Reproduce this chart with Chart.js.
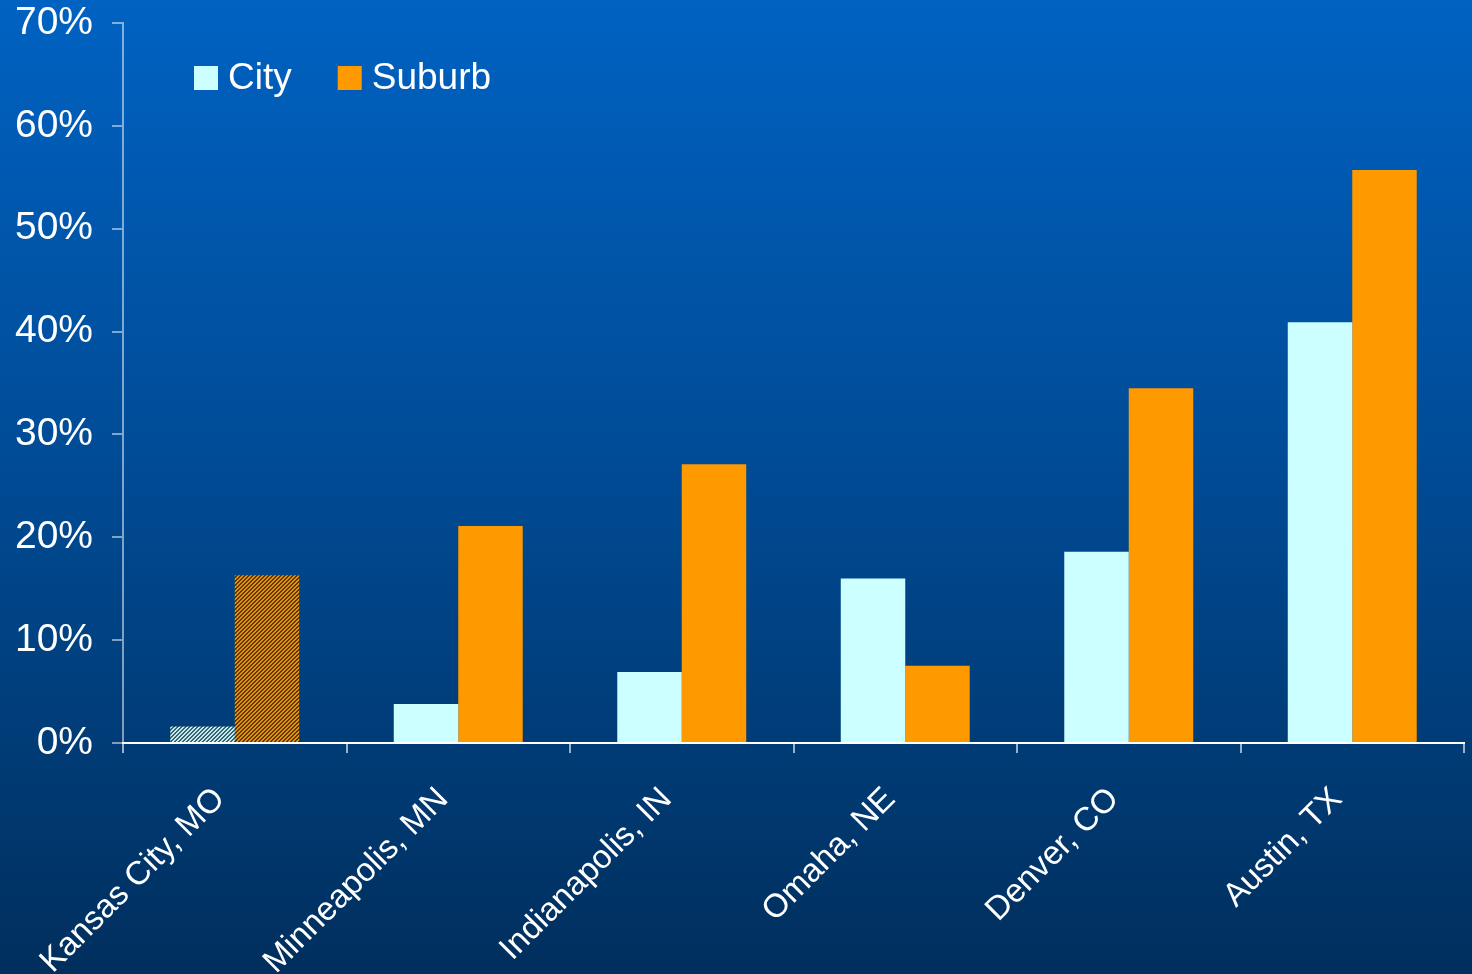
<!DOCTYPE html>
<html><head><meta charset="utf-8">
<script src="https://cdn.jsdelivr.net/npm/chart.js@4/dist/chart.umd.min.js"></script>
<style>html,body{margin:0;padding:0;background:#003060;overflow:hidden}#wrap{width:1472px;height:974px}</style>
</head><body><div id="wrap"><canvas id="c" width="1472" height="974"></canvas></div>
<script>
const categories = ['Kansas City, MO','Minneapolis, MN','Indianapolis, IN','Omaha, NE','Denver, CO','Austin, TX'];
const cityValues = [1.6, 3.8, 6.9, 16.0, 18.6, 40.9];
const suburbValues = [16.3, 21.1, 27.1, 7.5, 34.5, 55.7];
const seriesNames = ['City','Suburb'];
const hatchedCategories = ['Kansas City, MO'];
const yTickMax = 70, yTickStep = 10;

const FONT = 'Liberation Sans, Arial, sans-serif';
const CITY = '#CCFFFF', SUBURB = '#FF9900';

function hatch(bg, fg){
  const c = document.createElement('canvas'); c.width = c.height = 4;
  const g = c.getContext('2d');
  g.fillStyle = bg; g.fillRect(0,0,4,4);
  g.fillStyle = fg;
  for (let i=0;i<4;i++){ g.fillRect(i,3-i,1,1); g.fillRect((i+1)%4,3-i,1,1); }
  return g.createPattern(c,'repeat');
}
const cityHatch = hatch('#c0ecec','#3a6270');
const subHatch = hatch('#ea9200','#5a3800');
const cityColors = categories.map(c => hatchedCategories.includes(c) ? cityHatch : CITY);
const subColors = categories.map(c => hatchedCategories.includes(c) ? subHatch : SUBURB);

const bgPlugin = {
  id:'bg',
  beforeDraw(chart){
    const {ctx, width, height} = chart;
    const g = ctx.createLinearGradient(0,0,0,height);
    g.addColorStop(0,'#0062c2');
    g.addColorStop(0.5,'#004a93');
    g.addColorStop(1,'#002f5d');
    ctx.save(); ctx.fillStyle = g; ctx.fillRect(0,0,width,height); ctx.restore();
  }
};
const legendPlugin = {
  id:'customLegend',
  afterDraw(chart){
    const ctx = chart.ctx;
    ctx.save();
    ctx.font = '37px ' + FONT;
    ctx.textBaseline = 'middle';
    let x = 194; const y = 66, s = 24;
    chart.data.datasets.forEach((ds, i) => {
      ctx.fillStyle = i === 0 ? CITY : SUBURB;
      ctx.fillRect(x, y, s, s);
      ctx.fillStyle = '#ffffff';
      ctx.fillText(ds.label, x + s + 10, y + s/2 + 1);
      x += s + 10 + ctx.measureText(ds.label).width + 46;
    });
    ctx.restore();
  }
};

new Chart(document.getElementById('c'), {
  type:'bar',
  data:{
    labels: categories,
    datasets:[
      {label: seriesNames[0], data: cityValues, backgroundColor: cityColors, borderWidth:0},
      {label: seriesNames[1], data: suburbValues, backgroundColor: subColors, borderWidth:0}
    ]
  },
  options:{
    responsive:false, animation:false, devicePixelRatio:1,
    categoryPercentage:0.577, barPercentage:1,
    layout:{padding:{top:23,right:8,left:0,bottom:0}},
    plugins:{legend:{display:false}, tooltip:{enabled:false}},
    scales:{
      x:{
        grid:{display:true, drawOnChartArea:false, drawTicks:true, tickLength:10, color:'rgba(255,255,255,0.6)', lineWidth:2, offset:true},
        border:{display:true, color:'#ffffff', width:2},
        ticks:{color:'#ffffff', font:{family:FONT, size:33}, minRotation:45, maxRotation:45, autoSkip:false, padding:27, labelOffset:-15},
        afterFit(s){ s.height = 231; s.paddingTop = 0; s.paddingBottom = 0; }
      },
      y:{
        min:0, max:yTickMax,
        grid:{display:true, drawOnChartArea:false, drawTicks:true, tickLength:11, color:'rgba(255,255,255,0.5)', lineWidth:2},
        border:{display:true, color:'rgba(255,255,255,0.5)', width:2},
        ticks:{stepSize:yTickStep, color:'#ffffff', font:{family:FONT, size:39}, padding:19, callback:v => v + '%'},
        afterFit(s){ s.width = 123; s.paddingTop = 0; s.paddingBottom = 0; }
      }
    }
  },
  plugins:[bgPlugin, legendPlugin]
});
</script>
</body></html>
